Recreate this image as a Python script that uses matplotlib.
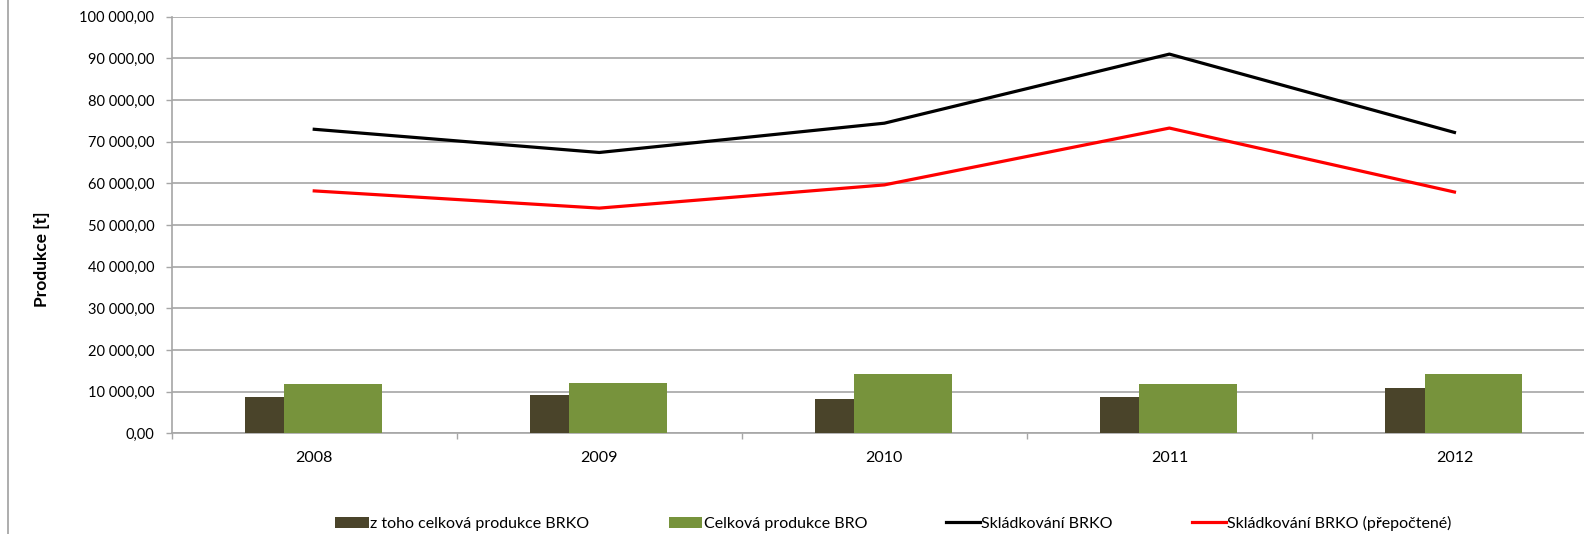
import matplotlib
matplotlib.use("Agg")
import matplotlib.pyplot as plt
from matplotlib.lines import Line2D
from matplotlib.ticker import FuncFormatter, FixedLocator
import numpy as np

# data
years = ["2008", "2009", "2010", "2011", "2012"]
brko_total = [8640, 9260, 8230, 8640, 10800]        # z toho celková produkce BRKO
bro_total = [11800, 12070, 14300, 11760, 14300]     # Celková produkce BRO
landfill_brko = [72960, 67390, 74420, 91000, 72200]  # Skládkování BRKO
landfill_recalc = [58170, 54040, 59610, 73250, 57900]  # Skládkování BRKO (přepočtené)

plt.rcParams['font.family'] = ['Lato', 'DejaVu Sans']

fig = plt.figure(figsize=(15.84, 5.34), dpi=100)
ax = fig.add_axes([0.1084, 0.1886, 0.8998, 0.7803])

x = np.arange(len(years))
grid_col = "#a6a6a6"

# bars: narrow dark one on the left, wide green one next to it
dark_w, green_w = 0.137, 0.341
b1 = ax.bar(x - 0.105 - dark_w / 2, brko_total, width=dark_w, color="#4a442a",
            label="z toho celková produkce BRKO", zorder=3)
b2 = ax.bar(x - 0.105 + green_w / 2, bro_total, width=green_w, color="#77933c",
            label="Celková produkce BRO", zorder=3)

l1, = ax.plot(x, landfill_brko, color="black", lw=2.3, label="Skládkování BRKO", zorder=4)
l2, = ax.plot(x, landfill_recalc, color="red", lw=2.3,
              label="Skládkování BRKO (přepočtené)", zorder=4)

ax.set_xlim(-0.5, len(years) - 0.5)
ax.set_ylim(0, 100000)
ax.set_yticks(np.arange(0, 100001, 10000))
ax.yaxis.set_major_formatter(FuncFormatter(
    lambda v, p: f"{v:,.2f}".replace(",", " ").replace(".", ",")))
ax.grid(axis="y", color=grid_col, lw=1.2, zorder=0)

# category separators as major ticks, year labels on minor ticks
ax.xaxis.set_major_locator(FixedLocator(np.arange(len(years) + 1) - 0.5))
ax.xaxis.set_major_formatter(FuncFormatter(lambda v, p: ""))
ax.xaxis.set_minor_locator(FixedLocator(x))
ax.set_xticklabels(years, minor=True)
ax.tick_params(axis="x", which="major", length=4.5, color=grid_col, width=1)
ax.tick_params(axis="x", which="minor", length=0, pad=13, labelsize=11.5)
ax.tick_params(axis="y", length=4.5, color=grid_col, width=1, pad=8, labelsize=10.5)

for s in ["top", "right"]:
    ax.spines[s].set_visible(False)
for s in ["left", "bottom"]:
    ax.spines[s].set_color(grid_col)
    ax.spines[s].set_linewidth(1.2)

fig.text(0.0265, 0.515, "Produkce [t]", rotation=90, va="center", ha="center",
         fontsize=12.5, fontweight="bold")

# left border of the chart area
fig.add_artist(Line2D([0.005, 0.005], [0, 1], color="#a0a0a0", lw=1.2,
                      transform=fig.transFigure))

fig.legend([b1, b2, l1, l2], [h.get_label() for h in (b1, b2, l1, l2)],
           loc="center", bbox_to_anchor=(0.564, 0.02), ncol=4,
           frameon=False, fontsize=11.5, handlelength=2.1, handleheight=0.7,
           handletextpad=0.1, columnspacing=4.95)

fig.savefig("out.png", dpi=100)
